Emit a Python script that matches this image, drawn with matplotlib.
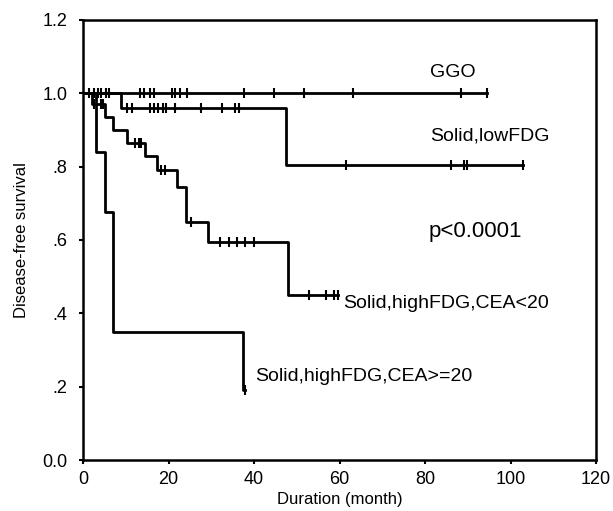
import numpy as np
import matplotlib
matplotlib.use("Agg")
import matplotlib.pyplot as plt

plt.rcParams['font.family'] = ['Liberation Sans', 'DejaVu Sans']

# step times (months) and survival levels for each group
ggo_t = [0, 94.4]
ggo_s = [1.0, 1.0]
ggo_cens = [1.5, 2.6, 3.4, 4.2, 5.3, 6.1, 13.4, 14.2, 15.7, 16.5, 20.8, 21.5,
            22.7, 24.4, 37.7, 44.7, 51.6, 63.2, 88.3, 94.4]

low_t = [0, 9.0, 47.4, 103.0]
low_s = [1.0, 0.96, 0.805, 0.805]
low_cens_t = [10.2, 11.5, 15.6, 16.7, 17.6, 18.6, 19.5, 21.5, 27.5, 32.5, 35.6, 36.6,
              61.4, 86.0, 89.0, 89.8, 103.0]

cea_lo_t = [0, 2.1, 5.2, 7.0, 10.2, 14.5, 17.3, 22.1, 24.2, 29.2, 47.9, 59.6]
cea_lo_s = [1.0, 0.97, 0.935, 0.90, 0.865, 0.83, 0.79, 0.745, 0.65, 0.595, 0.45, 0.45]
cea_lo_cens_t = [2.6, 4.2, 4.7, 12.2, 13.0, 13.6, 18.2, 19.2, 25.2, 32.1, 34.1, 36.0,
                 38.0, 39.9, 52.9, 56.8, 58.6, 59.6]

cea_hi_t = [0, 3.1, 5.2, 7.1, 37.5, 38.0]
cea_hi_s = [1.0, 0.84, 0.675, 0.35, 0.19, 0.19]
cea_hi_cens_t = [38.0]


def level_at(t, times, surv):
    # survival value of a step curve at time t
    idx = np.searchsorted(times, t, side='right') - 1
    return surv[idx]


fig = plt.figure(figsize=(6.13, 5.11), dpi=100)
ax = fig.add_axes([0.1354, 0.0998, 0.837, 0.8611])

curves = [(ggo_t, ggo_s, ggo_cens),
          (low_t, low_s, low_cens_t),
          (cea_lo_t, cea_lo_s, cea_lo_cens_t),
          (cea_hi_t, cea_hi_s, cea_hi_cens_t)]
for times, surv, cens in curves:
    ax.plot(times, surv, drawstyle='steps-post', color='black', lw=2.0)
    cy = [level_at(c, times, surv) for c in cens]
    ax.plot(cens, cy, linestyle='none', marker='|', color='black',
            markersize=7, markeredgewidth=1.5)

ax.text(81.2, 1.057, 'GGO', fontsize=14, va='center', ha='left')
ax.text(81.2, 0.884, 'Solid,lowFDG', fontsize=14, va='center', ha='left')
ax.text(80.9, 0.622, 'p<0.0001', fontsize=16, va='center', ha='left')
ax.text(60.8, 0.428, 'Solid,highFDG,CEA<20', fontsize=14, va='center', ha='left')
ax.text(40.2, 0.229, 'Solid,highFDG,CEA>=20', fontsize=14, va='center', ha='left')

ax.set_xlim(0, 120)
ax.set_ylim(0, 1.2)
ax.set_xticks([0, 20, 40, 60, 80, 100, 120])
ax.set_yticks([0, 0.2, 0.4, 0.6, 0.8, 1.0, 1.2])
ax.set_yticklabels(['0.0', '.2', '.4', '.6', '.8', '1.0', '1.2'])
ax.tick_params(direction='out', length=3, width=1.5, labelsize=13)
ax.tick_params(axis='y', pad=8)
ax.tick_params(axis='x', pad=5)
for sp in ax.spines.values():
    sp.set_linewidth(1.8)

ax.set_xlabel('Duration (month)', fontsize=12, labelpad=3)
ax.set_ylabel('Disease-free survival', fontsize=12, labelpad=10)

fig.savefig('out.png', dpi=100)
